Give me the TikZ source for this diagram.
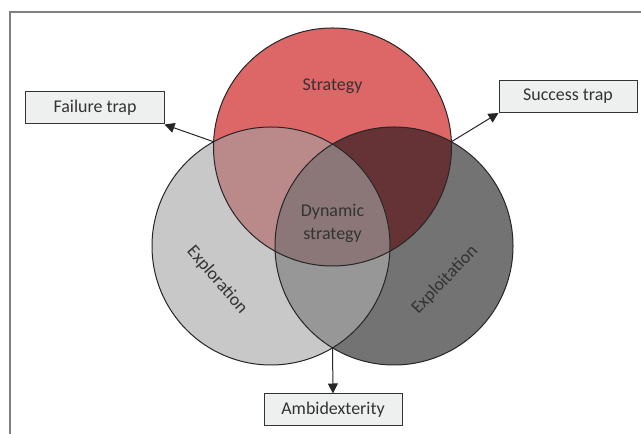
\documentclass[tikz,border=0pt]{standalone}
\usepackage{fontspec}
\setmainfont{Carlito}
\usepackage{tikz}
\usetikzlibrary{arrows.meta,positioning}

\definecolor{stratred}{RGB}{221,102,102}
\definecolor{explgrey}{RGB}{200,200,200}
\definecolor{exptgrey}{RGB}{115,115,115}
\definecolor{redlight}{RGB}{186,138,139}
\definecolor{reddark}{RGB}{101,51,53}
\definecolor{midgrey}{RGB}{151,151,151}
\definecolor{coregrey}{RGB}{139,119,119}
\definecolor{boxgrey}{RGB}{238,239,239}
\definecolor{textgrey}{RGB}{51,51,51}
\definecolor{framegrey}{RGB}{128,128,128}

\begin{document}
\begin{tikzpicture}[x=1bp,y=1bp]
	\tikzset{
		ring/.style={draw=black!85,line width=1bp},
		trapbox/.style={draw=black!80,fill=boxgrey,line width=1bp,minimum width=138bp,minimum height=32bp,
			font=\fontsize{18}{22}\selectfont,text=textgrey},
		lbl/.style={font=\fontsize{18}{23}\selectfont,text=textgrey,align=center},
		pointer/.style={-{Triangle[length=10bp,width=10bp]},line width=1bp,black!85}
	}
	\useasboundingbox (0,0) rectangle (641,434);
	% frame
	\draw[framegrey,line width=1.5bp] (10,0) -- (10,422) -- (641,422);
	% circles
	\coordinate (cs) at (332.5,287);
	\coordinate (cl) at (271,188);
	\coordinate (cr) at (394,188);
	\fill[stratred] (cs) circle[radius=119];
	\fill[explgrey] (cl) circle[radius=119];
	\fill[exptgrey] (cr) circle[radius=119];
	\begin{scope}
		\clip (cs) circle[radius=119];
		\fill[redlight] (cl) circle[radius=119];
		\fill[reddark] (cr) circle[radius=119];
	\end{scope}
	\begin{scope}
		\clip (cl) circle[radius=119];
		\fill[midgrey] (cr) circle[radius=119];
		\clip (cr) circle[radius=119];
		\fill[coregrey] (cs) circle[radius=119];
	\end{scope}
	\draw[ring] (cs) circle[radius=119];
	\draw[ring] (cl) circle[radius=119];
	\draw[ring] (cr) circle[radius=119];
	% labels
	\node[lbl] (strategy) at (332.5,348) {Strategy};
	\node[lbl] (dynamic) at (332.5,211) {Dynamic\\strategy};
	\node[lbl,rotate=-49] (exploration) at (217,154) {Exploration};
	\node[lbl,rotate=46] (exploitation) at (445,154) {Exploitation};
	% boxes
	\node[trapbox] (failure) at (95,326) {Failure trap};
	\node[trapbox] (success) at (568,337.5) {Success trap};
	\node[trapbox] (ambi) at (333,24) {Ambidexterity};
	\coordinate (xleft) at (213.5,292.3);
	\coordinate (xright) at (451.5,292.3);
	\coordinate (xbottom) at (332.5,86.1);
	\path[pointer]
		(xleft) edge (failure.south east)
		(xright) edge (success.south west)
		(xbottom) edge (ambi.north);
\end{tikzpicture}
\end{document}
